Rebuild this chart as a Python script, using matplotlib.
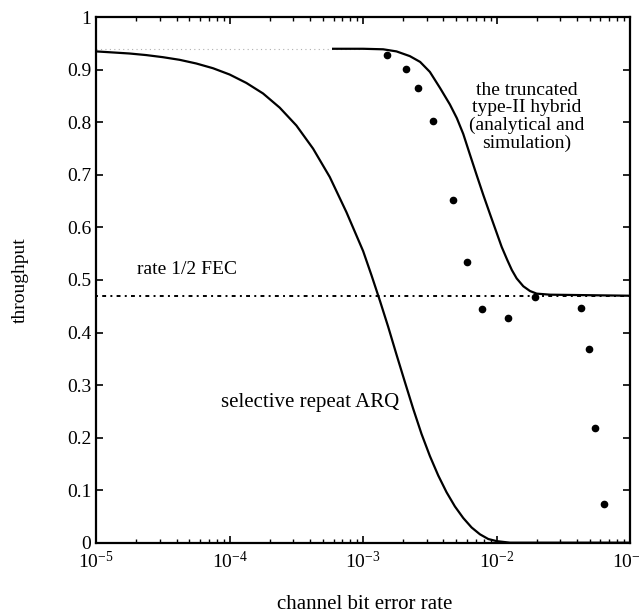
import matplotlib.pyplot as plt
from matplotlib.ticker import LogLocator, NullFormatter

# throughput vs channel bit error rate
plt.rcParams['font.family'] = ['Liberation Serif', 'DejaVu Serif']

# selective repeat ARQ (analytical curve)
arq_ber = [1e-5, 1.334e-5, 1.778e-5, 2.371e-5, 3.162e-5, 4.217e-5, 5.623e-5, 7.499e-5,
           1e-4, 1.334e-4, 1.778e-4, 2.371e-4, 3.162e-4, 4.217e-4, 5.623e-4, 7.499e-4,
           1e-3, 1.155e-3, 1.334e-3, 1.540e-3, 1.778e-3, 2.054e-3, 2.371e-3, 2.738e-3,
           3.162e-3, 3.652e-3, 4.217e-3, 4.870e-3, 5.623e-3, 6.494e-3, 7.499e-3, 8.66e-3,
           1e-2, 1.259e-2, 1e-1]
arq_thr = [0.935, 0.933, 0.931, 0.928, 0.924, 0.919, 0.912, 0.903,
           0.891, 0.875, 0.855, 0.828, 0.794, 0.750, 0.696, 0.629,
           0.555, 0.509, 0.461, 0.411, 0.358, 0.306, 0.255, 0.207,
           0.165, 0.128, 0.096, 0.069, 0.047, 0.029, 0.016, 0.007,
           0.003, 0.0, 0.0]

# truncated type-II hybrid ARQ (analytical curve)
hyb_ber = [5.96e-4, 1e-3, 1.413e-3, 1.778e-3, 2.239e-3, 2.673e-3, 3.162e-3, 3.776e-3,
           4.467e-3, 5.035e-3, 5.623e-3, 6.324e-3, 7.079e-3, 7.943e-3, 8.933e-3, 1e-2,
           1.091e-2, 1.202e-2, 1.300e-2, 1.413e-2, 1.585e-2, 1.778e-2, 1.995e-2, 2.512e-2,
           1e-1]
hyb_thr = [0.940, 0.940, 0.939, 0.935, 0.926, 0.915, 0.896, 0.865,
           0.834, 0.808, 0.778, 0.738, 0.700, 0.662, 0.625, 0.590,
           0.563, 0.538, 0.519, 0.503, 0.488, 0.479, 0.474, 0.472,
           0.470]

# truncated type-II hybrid ARQ (simulation points)
sim_ber = [1.51e-3, 2.1e-3, 2.59e-3, 3.33e-3, 4.74e-3, 6.04e-3, 7.74e-3,
           1.22e-2, 1.94e-2, 4.3e-2, 4.91e-2, 5.5e-2, 6.35e-2]
sim_thr = [0.929, 0.901, 0.865, 0.803, 0.652, 0.534, 0.444,
           0.427, 0.467, 0.446, 0.368, 0.218, 0.073]

# rate 1/2 FEC
fec_ber = [1e-5, 1e-1]
fec_thr = [0.47, 0.47]

# faint dotted reference line near the top
ref_ber = [1e-5, 1e-3]
ref_thr = [0.94, 0.94]

fig = plt.figure(figsize=(6.41, 6.16), dpi=100)
ax = fig.add_axes([0.150, 0.119, 0.833, 0.853])

ax.plot(ref_ber, ref_thr, color='#b0b0b0', linestyle=(0, (1, 3)), linewidth=0.8)
ax.plot(fec_ber, fec_thr, color='black', linestyle=(0, (1, 2.2, 2, 2.2)), linewidth=1.4)
ax.plot(arq_ber, arq_thr, color='black', linewidth=1.6)
ax.plot(hyb_ber, hyb_thr, color='black', linewidth=1.6)
ax.plot(sim_ber, sim_thr, 'o', color='black', markersize=4.5)

ax.set_xscale('log')
ax.set_xlim(1e-5, 1e-1)
ax.set_ylim(0, 1)

ax.xaxis.set_major_locator(LogLocator(base=10, numticks=10))
ax.xaxis.set_minor_locator(LogLocator(base=10, subs=range(2, 10), numticks=20))
ax.xaxis.set_minor_formatter(NullFormatter())
ax.set_yticks([0, 0.1, 0.2, 0.3, 0.4, 0.5, 0.6, 0.7, 0.8, 0.9, 1.0])
ax.set_yticklabels(['0', '0.1', '0.2', '0.3', '0.4', '0.5', '0.6', '0.7', '0.8', '0.9', '1'])

ax.tick_params(which='both', direction='in', top=True, right=True, labelsize=14)
ax.tick_params(which='major', length=5, width=1.2)
ax.tick_params(which='minor', length=3, width=1)
ax.tick_params(axis='x', pad=6)
for s in ax.spines.values():
    s.set_linewidth(1.6)

ax.text(2.03e-5, 0.519, 'rate 1/2 FEC', fontsize=14, va='center', ha='left')
ax.text(1.69e-2, 0.81, 'the truncated\ntype-II hybrid\n(analytical and\nsimulation)',
        fontsize=14, ha='center', va='center', multialignment='center', linespacing=1.05)
ax.text(4.0e-4, 0.266, 'selective repeat ARQ', fontsize=15, ha='center', va='center')

fig.text(0.031, 0.545, 'throughput', rotation=90, fontsize=14, ha='center', va='center')
fig.text(0.569, 0.018, 'channel bit error rate', fontsize=15, ha='center', va='center')

fig.savefig('out.png', dpi=100)
